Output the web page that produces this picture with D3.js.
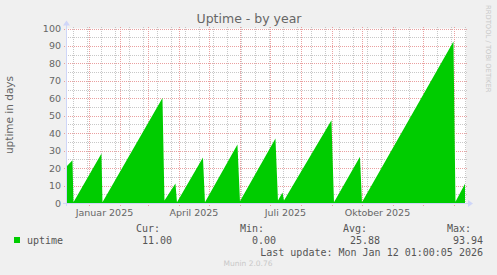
<!DOCTYPE html>
<html>
<head>
<meta charset="utf-8">
<script src="https://cdn.jsdelivr.net/npm/d3@7"></script>
<style>
  body { margin: 0; background: #f0f0f0; }
  text { font-family: "DejaVu Sans", sans-serif; fill: #666; }
  .mono { font-family: "DejaVu Sans Mono", monospace; font-size: 10px; fill: #555; }
</style>
</head>
<body>
<svg width="497" height="275"></svg>
<script>
// uptime breakpoints (peaks before each reboot and the dip after it)
var uptimeDates = [
  "2024-12-08 01:00", "2024-12-15 12:00", "2024-12-16 12:00",
  "2025-01-13 12:00", "2025-01-14 12:00",
  "2025-03-15 12:00", "2025-03-17 12:00",
  "2025-03-28 12:00", "2025-03-30 00:00",
  "2025-04-25 00:00", "2025-04-27 00:00",
  "2025-05-29 12:00", "2025-06-01 00:00",
  "2025-07-06 12:00", "2025-07-09 00:00",
  "2025-07-13 12:00", "2025-07-15 00:00",
  "2025-08-31 12:00", "2025-09-03 00:00",
  "2025-09-29 00:00", "2025-10-01 00:00",
  "2025-12-31 12:00", "2026-01-02 12:00",
  "2026-01-12 01:00"
];
var uptimeValues = [
  20, 24.5, 0.5,
  28.4, 0.5,
  60.2, 1.5,
  11.2, 0.5,
  26.1, 0.5,
  33.5, 1,
  37, 1.5,
  6, 1.5,
  47.4, 0.5,
  26.5, 0.5,
  92.5, 0.7,
  11
];
var yTicks = [0, 10, 20, 30, 40, 50, 60, 70, 80, 90, 100];
var quarterLabels = ["Januar 2025", "April 2025", "Juli 2025", "Oktober 2025"];
var quarterMonths = ["2025-01", "2025-04", "2025-07", "2025-10"];
var legendHeads = ["Cur:", "Min:", "Avg:", "Max:"];
var legendVals = ["11.00", "0.00", "25.88", "93.94"];

var parseTime = d3.timeParse("%Y-%m-%d %H:%M"),
    parseMonth = d3.timeParse("%Y-%m");

var data = uptimeDates.map(function(d, i) {
  return {date: parseTime(d), value: uptimeValues[i]};
});

var end = parseTime("2026-01-12 01:00"),
    start = d3.timeDay.offset(end, -400);

var svg = d3.select("svg");
var pLeft = 66, pRight = 466, pTop = 28.5, pBottom = 203;

var x = d3.scaleTime().domain([start, end]).range([65, 465]),
    y = d3.scaleLinear().domain([0, 100]).range([pBottom, pTop]);

svg.append("defs").append("clipPath").attr("id", "plotclip")
  .append("rect").attr("x", pLeft + 1).attr("y", 0).attr("width", pRight - pLeft).attr("height", pBottom);

// canvas
svg.append("rect").attr("width", 497).attr("height", 275).attr("fill", "#f0f0f0");
svg.append("rect").attr("x", pLeft).attr("y", pTop).attr("width", pRight - pLeft).attr("height", pBottom - pTop).attr("fill", "#fff");

var grid = svg.append("g").attr("shape-rendering", "crispEdges");

// minor horizontal lines (every 5)
d3.range(5, 100, 10).forEach(function(v) {
  grid.append("line").attr("x1", pLeft).attr("x2", pRight + 2)
    .attr("y1", Math.round(y(v)) + 0.5).attr("y2", Math.round(y(v)) + 0.5)
    .attr("stroke", "#c8c8c8").attr("stroke-dasharray", "1,1");
});
// minor vertical lines, every second monday
d3.timeMonday.range(parseTime("2024-12-16 00:00"), end, 2).forEach(function(d) {
  grid.append("line").attr("y1", pTop - 2).attr("y2", pBottom + 2)
    .attr("x1", Math.round(x(d)) + 0.5).attr("x2", Math.round(x(d)) + 0.5)
    .attr("stroke", "#c8c8c8").attr("stroke-dasharray", "1,1");
});
// major lines
yTicks.slice(1).forEach(function(v) {
  grid.append("line").attr("x1", pLeft - 2).attr("x2", pRight + 2)
    .attr("y1", Math.round(y(v)) + 0.5).attr("y2", Math.round(y(v)) + 0.5)
    .attr("stroke", "#eaa0a0").attr("stroke-dasharray", "1,1");
});
d3.timeMonth.range(start, end).forEach(function(d) {
  grid.append("line").attr("y1", pTop - 2).attr("y2", pBottom + 3)
    .attr("x1", Math.round(x(d)) + 0.5).attr("x2", Math.round(x(d)) + 0.5)
    .attr("stroke", "#eaa0a0").attr("stroke-dasharray", "1,1");
});

// the uptime area
var area = d3.area()
  .x(function(d) { return x(d.date); })
  .y0(y(0))
  .y1(function(d) { return y(d.value); });

svg.append("path").datum(data).attr("d", area).attr("fill", "#00cc00")
  .attr("clip-path", "url(#plotclip)");

// axes
var ax = svg.append("g").attr("shape-rendering", "crispEdges");
ax.append("line").attr("x1", pLeft - 3).attr("x2", pRight + 2).attr("y1", pBottom + 0.5).attr("y2", pBottom + 0.5).attr("stroke", "#cfd6f8");
ax.append("line").attr("x1", pLeft + 0.5).attr("x2", pLeft + 0.5).attr("y1", pBottom + 3).attr("y2", pTop - 4).attr("stroke", "#cfd6f8");
svg.append("path").attr("d", "M" + (pRight + 2) + "," + (pBottom - 3) + "L" + (pRight + 7) + "," + (pBottom + 0.5) + "L" + (pRight + 2) + "," + (pBottom + 4) + "Z").attr("fill", "#cfd6f8");
svg.append("path").attr("d", "M" + (pLeft - 3) + "," + (pTop - 3) + "L" + (pLeft + 0.5) + "," + (pTop - 8) + "L" + (pLeft + 4) + "," + (pTop - 3) + "Z").attr("fill", "#cfd6f8");

// y labels
svg.append("g").selectAll("text").data(yTicks).enter().append("text")
  .attr("x", 61).attr("y", function(d) { return y(d) + 3.5; })
  .attr("text-anchor", "end").style("font-size", "9.5px")
  .text(function(d) { return d; });

// x labels centred on middle of the month
svg.append("g").selectAll("text").data(quarterLabels).enter().append("text")
  .attr("x", function(d, i) {
    var m = parseMonth(quarterMonths[i]);
    return (x(m) + x(d3.timeMonth.offset(m, 1))) / 2;
  })
  .attr("y", 215.5).attr("text-anchor", "middle").style("font-size", "9.5px")
  .text(function(d) { return d; });

// titles
svg.append("text").attr("x", 249).attr("y", 22.5).attr("text-anchor", "middle")
  .style("font-size", "12.5px").text("Uptime - by year");
svg.append("text").attr("transform", "translate(13,115) rotate(-90)")
  .attr("text-anchor", "middle").style("font-size", "10.5px").text("uptime in days");
svg.append("text").attr("transform", "translate(485.5,5) rotate(90)")
  .style("font-size", "6.8px").style("fill", "#c8c8c8").text("RRDTOOL / TOBI OETIKER");

// legend
svg.append("rect").attr("x", 14).attr("y", 237).attr("width", 6).attr("height", 6).attr("fill", "#00cc00");
svg.append("text").attr("class", "mono").attr("x", 27).attr("y", 243.5).text("uptime");
var headX = [136, 240, 343, 447], valX = [142, 252, 350, 453];
legendHeads.forEach(function(h, i) {
  svg.append("text").attr("class", "mono").attr("x", headX[i]).attr("y", 231.5).text(h);
  svg.append("text").attr("class", "mono").attr("x", valX[i]).attr("y", 243.5).text(legendVals[i]);
});
svg.append("text").attr("class", "mono").attr("x", 483).attr("y", 255.5).attr("text-anchor", "end")
  .text("Last update: Mon Jan 12 01:00:05 2026");
svg.append("text").attr("x", 248).attr("y", 266).attr("text-anchor", "middle")
  .style("font-size", "7.5px").style("fill", "#c8c8c8").text("Munin 2.0.76");
</script>
</body>
</html>
